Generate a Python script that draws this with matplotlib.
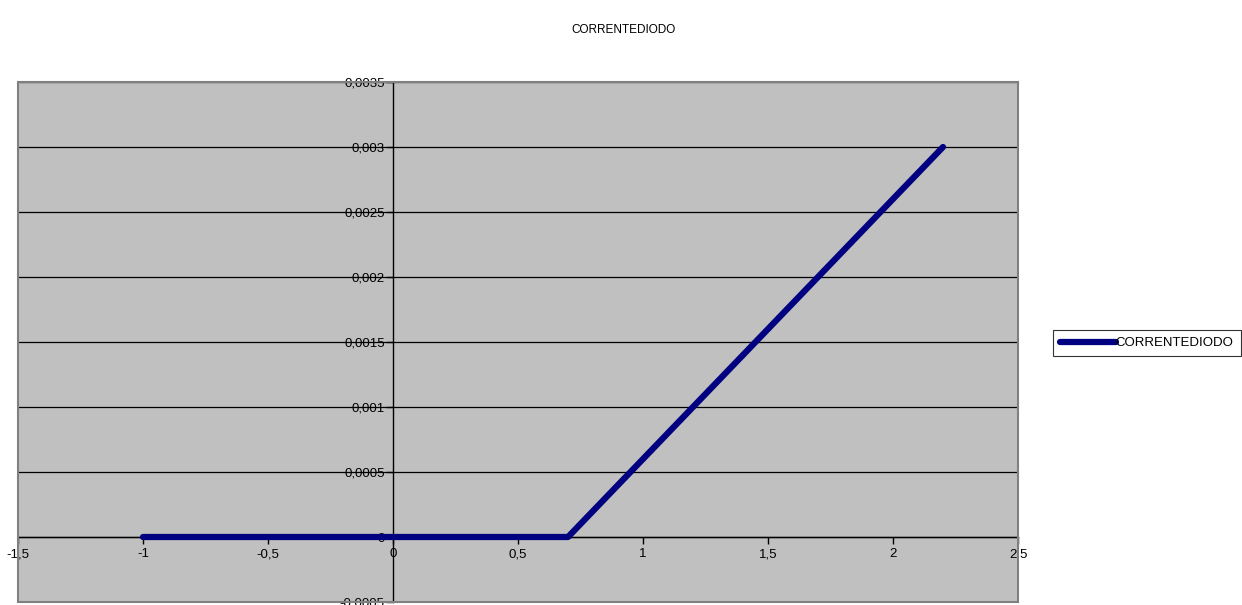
import numpy as np
import matplotlib.pyplot as plt
from matplotlib.patches import Rectangle

plt.rcParams['font.family'] = ['Liberation Sans', 'DejaVu Sans']

# ============================================================
# DIODE CURRENT DATA (V in volts, I in amperes)
# ============================================================
TITLE = "CORRENTEDIODO"
SERIES_NAME = "CORRENTEDIODO"

voltage = [-1.0, -0.9, -0.8, -0.7, -0.6, -0.5, -0.4, -0.3, -0.2, -0.1,
           0.0, 0.1, 0.2, 0.3, 0.4, 0.5, 0.6, 0.7, 0.8, 0.9,
           1.0, 1.1, 1.2, 1.3, 1.4, 1.5, 1.6, 1.7, 1.8, 1.9,
           2.0, 2.1, 2.2]
current = [0, 0, 0, 0, 0, 0, 0, 0, 0, 0,
           0, 0, 0, 0, 0, 0, 0, 0, 0.0002, 0.0004,
           0.0006, 0.0008, 0.001, 0.0012, 0.0014, 0.0016, 0.0018, 0.002, 0.0022, 0.0024,
           0.0026, 0.0028, 0.003]

x_ticks = [-1.5, -1, -0.5, 0, 0.5, 1, 1.5, 2, 2.5]
y_ticks = [-0.0005, 0, 0.0005, 0.001, 0.0015, 0.002, 0.0025, 0.003, 0.0035]


def comma(v):
    # decimal comma, as in the Italian locale
    return f"{v:g}".replace(".", ",")


W, H = 1242, 605
fig = plt.figure(figsize=(W / 100, H / 100), dpi=100)
ax = fig.add_axes([18 / W, 3 / H, 1000 / W, 520 / H])
ax.set_facecolor('#C0C0C0')

ax.set_xlim(-1.5, 2.5)
ax.set_ylim(-0.0005, 0.0035)

# horizontal gridlines in black
for yv in y_ticks[1:]:
    ax.axhline(yv, color='black', linewidth=0.9, zorder=1)

line, = ax.plot(voltage, current, color='#000080', linewidth=4.5,
                solid_capstyle='round', solid_joinstyle='round',
                label=SERIES_NAME, zorder=3)

# axes crossing at the origin
for side in ['top', 'right']:
    ax.spines[side].set_visible(False)
ax.spines['left'].set_position(('data', 0))
ax.spines['bottom'].set_position(('data', 0))
for side in ['left', 'bottom']:
    ax.spines[side].set_color('black')
    ax.spines[side].set_linewidth(1.0)
    ax.spines[side].set_zorder(2)

ax.set_xticks(x_ticks)
ax.set_yticks(y_ticks)
ax.set_xticklabels([comma(v) for v in x_ticks], fontsize=9.5)
ax.set_yticklabels([comma(v) for v in y_ticks], fontsize=9.5)
ax.tick_params(axis='x', direction='out', length=5, width=1, color='black', pad=3)
ax.tick_params(axis='y', direction='out', length=5, width=1, color='black', pad=1)

# gray frame around the plot area
ax.add_patch(Rectangle((0, 0), 1, 1, transform=ax.transAxes, fill=False,
                       edgecolor='#808080', linewidth=1.5, zorder=4, clip_on=False))

fig.text(624 / W, 1 - 30 / H, TITLE, ha='center', va='center', fontsize=8.5)

leg = fig.legend(handles=[line], loc='center left',
                 bbox_to_anchor=(1053 / W, 1 - 343 / H), fontsize=9.5,
                 frameon=True, fancybox=False, edgecolor='black',
                 handlelength=4.2, handletextpad=0.0, borderpad=0.55,
                 borderaxespad=0)
leg.get_frame().set_linewidth(0.8)

fig.savefig('out.png', dpi=100)
